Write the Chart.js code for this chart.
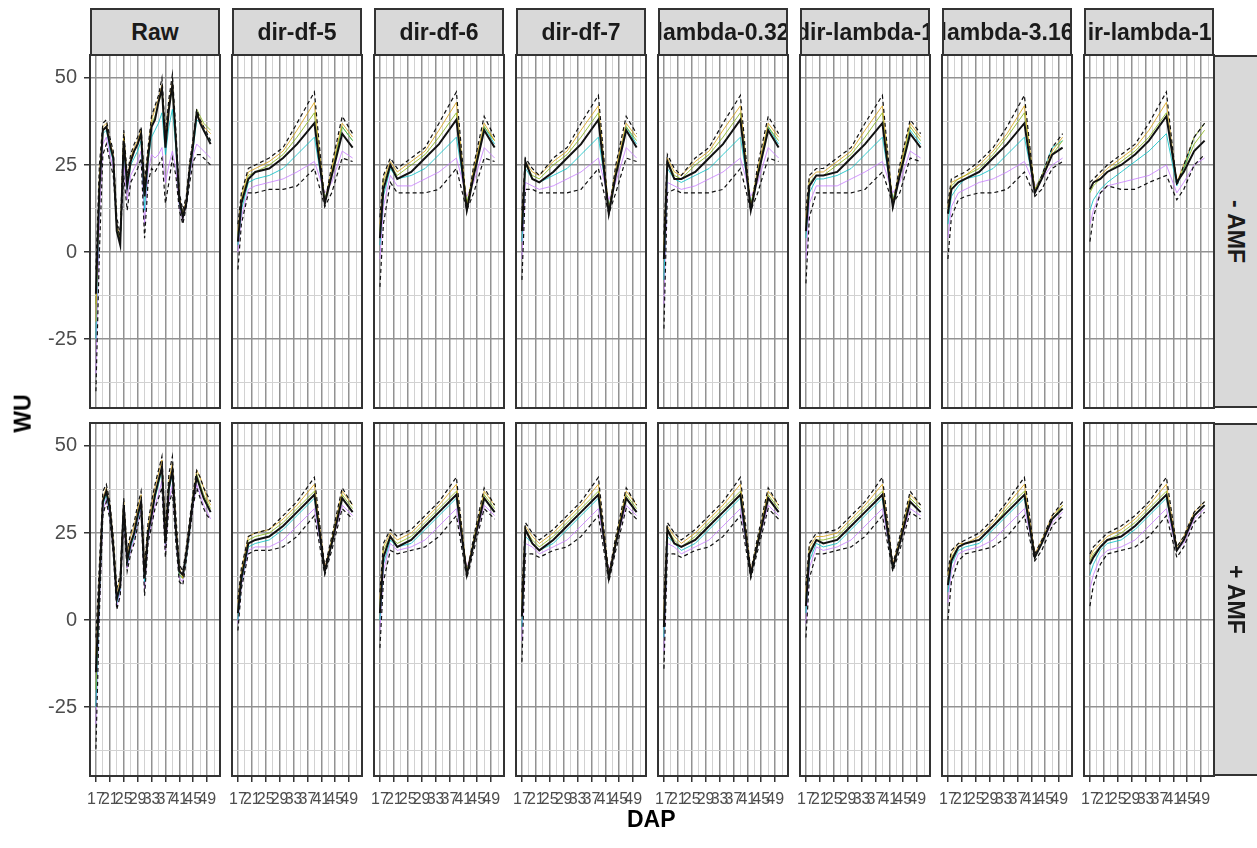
<!DOCTYPE html>
<html><head><meta charset="utf-8">
<script src="https://cdn.jsdelivr.net/npm/chart.js@4"></script>
<style>
body{margin:0;background:#fff;width:1257px;height:848px;overflow:hidden;position:relative;font-family:"Liberation Sans",Arial,sans-serif}
canvas{position:absolute}
.strip{position:absolute;background:#d9d9d9;border:2px solid #333;box-sizing:border-box;overflow:hidden;display:flex;align-items:center;justify-content:center;font-weight:bold;font-size:23px;color:#1a1a1a;white-space:nowrap}
.rstrip{writing-mode:vertical-rl;font-size:23px;padding-right:12px}
.title{position:absolute;font-weight:bold;font-size:23px;color:#000;white-space:nowrap}
</style></head><body>
<script>
// ---------- data ----------
const METHODS = ["Raw","dir-df-5","dir-df-6","dir-df-7","lambda-0.32","dir-lambda-1","lambda-3.16","dir-lambda-10"];
const ROWS = ["- AMF","+ AMF"];
const DAP_RAW = [17,18,19,20,21,22,23,24,25,26,27,28,29,30,31,32,33,34,35,36,37,38,39,40,41,42,43,44,45,46,47,48,49,50];
const DAP_SMOOTH = [17,18,20,22,26,30,34,39,42,44,47,50];
const X_TICKS = [17,21,25,29,33,37,41,45,49];
const X_MINOR = [19,23,27,31,35,39,43,47,51];
const Y_TICKS = [-25,0,25,50];
const Y_MINOR = [-37.5,-12.5,12.5,37.5];
const SERIES = ["upper","g1","g2","mean","g3","g4","lower"];

// - AMF row, each panel: [upper, g1, g2, mean, g3, g4, lower]
const minus_raw = [
 [-5,25,37,38,33,29,10,5,35,22,28,31,33,36,20,30,39,42,45,50,34,44,51,35,17,12,16,26,33,41,38,36,34,32],
 [-20,22,36,37,32,28,8,4,34,21,27,30,32,35,18,29,38,41,44,48,33,43,49,33,16,11,15,25,32,40,38,36,35,34],
 [-15,20,35,36,31,27,7,3,33,20,26,29,31,34,17,28,37,39,43,46,31,42,47,32,15,10,14,24,31,41,39,37,36,35],
 [-12,18,35,36,31,27,6,2,32,19,26,29,31,34,16,27,36,38,43,47,30,41,48,32,15,10,14,24,31,40,37,35,33,31],
 [-25,18,34,35,30,26,7,3,30,18,25,27,29,32,12,26,33,35,37,40,28,36,41,30,14,10,14,23,30,38,37,35,33,32],
 [-35,10,31,33,28,24,8,4,26,15,22,24,26,29,8,23,28,27,28,30,20,25,29,24,13,9,14,22,28,31,30,29,28,27],
 [-40,0,28,31,26,22,8,4,22,12,20,22,24,27,4,20,24,23,25,27,14,20,27,22,12,8,13,20,26,28,28,27,26,25]
];
const minus_dirdf5 = [
 [8,17,24,25,27,30,37,46,14,25,39,34],
 [6,16,23,24,26,29,35,43,14,24,37,33],
 [5,15,22,23,25,28,33,40,15,23,36,32],
 [3,14,21,23,24,27,31,37,14,22,34,30],
 [2,12,20,21,22,24,28,33,15,22,36,32],
 [0,10,18,19,20,21,23,26,17,20,29,27],
 [-5,8,17,17,18,18,19,24,13,17,27,26]
];
const minus_dirdf6 = [
 [10,22,27,24,27,30,37,46,12,25,39,33],
 [8,21,26,23,26,29,35,43,13,24,37,32],
 [6,20,25,22,25,28,33,40,14,23,36,32],
 [4,18,25,21,23,27,31,38,12,22,35,30],
 [2,16,24,21,22,24,28,33,14,22,36,31],
 [-2,13,22,19,19,21,23,27,16,20,30,27],
 [-10,8,20,17,17,17,18,24,12,17,27,26]
];
const minus_dirdf7 = [
 [12,27,24,22,27,30,37,45,11,25,39,34],
 [10,26,23,22,26,29,35,42,12,24,37,33],
 [8,25,22,21,25,28,33,40,12,23,36,32],
 [6,26,21,20,23,27,31,38,11,22,35,30],
 [3,24,21,20,22,24,28,33,13,22,36,31],
 [-2,20,19,18,19,21,23,27,15,20,30,27],
 [-8,18,18,17,17,17,18,24,11,17,27,26]
];
const minus_lambda03 = [
 [5,28,24,22,27,30,37,45,12,25,39,34],
 [2,27,23,22,26,29,35,42,13,24,37,33],
 [0,26,22,21,25,28,33,40,13,23,36,32],
 [-2,26,21,21,23,27,31,38,12,22,35,30],
 [-8,24,21,20,22,24,28,33,14,22,36,31],
 [-15,20,19,18,19,21,23,27,16,20,30,27],
 [-22,17,18,17,17,17,18,24,12,17,27,26]
];
const minus_rlambda03 = [
 [12,22,24,24,27,30,37,45,13,25,38,34],
 [10,21,23,23,26,29,35,42,14,24,37,33],
 [8,20,22,22,25,28,33,40,14,23,36,32],
 [6,19,22,22,23,27,31,37,13,22,34,30],
 [4,17,21,21,22,24,28,33,15,22,35,31],
 [-2,14,19,19,19,21,23,26,17,20,29,27],
 [-9,10,17,17,17,17,18,23,14,17,27,26]
];
const minus_lambda3 = [
 [14,21,22,23,26,30,36,45,17,22,30,34],
 [13,20,21,22,25,29,34,42,18,22,29,33],
 [12,19,21,22,24,28,33,40,18,21,28,32],
 [11,18,20,21,23,27,31,37,17,21,28,30],
 [8,16,19,21,22,24,28,33,18,22,30,32],
 [4,13,17,18,20,21,23,26,19,21,25,27],
 [-2,10,15,16,17,17,18,23,16,18,24,26]
];
const minus_rlambda10 = [
 [20,21,23,25,28,31,37,46,19,25,33,37],
 [18,20,22,24,27,30,35,43,20,25,33,37],
 [17,19,21,23,26,29,33,40,20,24,31,35],
 [18,20,21,23,25,28,32,39,20,23,29,32],
 [12,15,18,20,23,26,29,34,19,24,33,37],
 [8,12,17,19,20,21,22,25,17,20,25,27],
 [3,10,17,19,18,18,20,22,15,18,25,28]
];

// + AMF row
const plus_raw = [
 [-5,16,37,39,34,24,9,13,35,20,25,28,33,37,15,28,34,39,43,47,26,42,47,30,16,14,21,29,37,43,41,38,36,34],
 [-10,13,35,38,33,23,8,12,34,19,24,27,32,36,14,27,33,38,42,46,25,40,45,28,15,12,20,28,36,43,41,38,35,33],
 [-20,9,34,37,32,21,6,10,33,17,22,25,30,34,12,25,31,36,40,44,23,38,43,26,13,12,19,27,35,42,39,36,34,32],
 [-15,10,34,37,32,21,6,10,33,17,22,25,30,34,12,25,30,36,40,44,22,38,43,26,14,13,19,27,35,41,38,35,33,31],
 [-25,7,33,36,31,21,5,9,32,16,21,24,29,33,11,24,30,35,39,43,22,37,42,25,13,12,18,26,35,41,38,35,33,31],
 [-30,4,31,35,30,20,4,8,30,15,20,23,28,32,9,23,28,33,36,40,20,34,39,24,12,11,18,26,33,39,36,33,31,29],
 [-37,2,30,34,29,19,3,7,29,14,19,22,27,31,7,22,27,32,35,38,18,33,37,22,11,10,17,25,33,38,35,32,30,29]
];
const plus_dirdf5 = [
 [6,15,24,25,26,30,34,41,15,24,38,33],
 [5,14,24,25,26,29,33,39,15,23,37,33],
 [3,13,23,24,25,28,32,37,14,23,36,32],
 [2,12,22,23,24,27,31,36,14,22,35,31],
 [0,11,21,22,23,26,30,35,14,22,35,31],
 [-1,10,20,21,21,23,27,32,15,22,33,30],
 [-3,9,19,20,20,21,24,30,13,20,32,29]
];
const plus_dirdf6 = [
 [8,22,26,24,26,30,34,41,13,24,38,33],
 [6,21,25,23,25,29,33,39,14,23,37,33],
 [4,20,24,22,24,28,32,37,13,23,36,32],
 [2,18,24,21,23,27,31,36,13,22,35,31],
 [0,16,23,21,22,26,30,35,14,22,35,31],
 [-3,14,22,20,21,23,27,32,15,22,33,30],
 [-8,11,20,19,20,21,24,30,12,20,32,29]
];
const plus_dirdf7 = [
 [8,28,25,23,26,30,34,41,13,24,38,33],
 [6,27,24,22,25,29,33,39,13,23,37,33],
 [3,26,23,21,24,28,32,37,12,23,36,32],
 [1,26,22,20,23,27,31,36,12,22,35,31],
 [-2,24,22,20,22,26,30,35,13,22,35,31],
 [-6,22,21,19,21,23,27,32,14,22,33,30],
 [-12,19,19,18,20,21,24,30,11,20,32,29]
];
const plus_lambda03 = [
 [6,28,25,23,26,30,34,41,14,24,38,33],
 [3,27,24,22,25,29,33,39,14,23,37,33],
 [0,26,23,21,24,28,32,37,13,23,36,32],
 [-2,26,22,21,23,27,31,36,13,22,35,31],
 [-5,24,22,20,22,26,30,35,13,22,35,31],
 [-9,22,21,19,21,23,27,32,14,22,33,30],
 [-14,19,19,18,20,21,24,30,12,20,32,29]
];
const plus_rlambda03 = [
 [10,22,25,25,26,30,34,41,16,24,37,33],
 [8,21,24,24,25,29,33,39,16,23,36,33],
 [6,20,23,23,24,28,32,37,15,23,35,32],
 [4,19,23,22,23,27,31,36,15,22,34,31],
 [2,17,22,21,22,26,30,35,15,22,34,31],
 [-1,15,21,20,21,23,27,32,16,22,32,30],
 [-5,12,19,19,20,21,24,30,14,20,31,29]
];
const plus_lambda3 = [
 [14,20,22,23,25,29,34,41,19,23,30,34],
 [13,19,22,22,24,28,33,39,19,23,30,33],
 [11,18,21,22,23,27,32,37,18,22,29,33],
 [10,17,21,22,23,27,31,36,18,22,29,32],
 [8,16,20,21,22,26,30,35,18,22,29,32],
 [5,14,19,20,21,23,27,32,19,22,28,31],
 [0,11,17,19,20,21,24,30,17,20,27,30]
];
const plus_rlambda10 = [
 [19,21,23,25,27,30,34,41,21,24,31,34],
 [18,20,22,24,26,29,33,39,21,24,31,34],
 [17,19,21,23,25,28,32,37,20,23,30,33],
 [16,18,21,23,24,27,31,36,20,23,30,33],
 [13,16,20,22,23,26,30,35,20,23,30,33],
 [9,13,18,20,21,23,27,32,20,22,29,32],
 [4,10,16,19,20,21,24,30,18,21,28,31]
];

const PANELS = [
 [minus_raw,minus_dirdf5,minus_dirdf6,minus_dirdf7,minus_lambda03,minus_rlambda03,minus_lambda3,minus_rlambda10],
 [plus_raw,plus_dirdf5,plus_dirdf6,plus_dirdf7,plus_lambda03,plus_rlambda03,plus_lambda3,plus_rlambda10]
];

// ---------- style / layout ----------
const STYLE = {
 upper:{color:'#111',w:1.2,dash:[4,3],order:1},
 lower:{color:'#111',w:1.2,dash:[4,3],order:1},
 mean:{color:'#111',w:2,dash:[],order:0},
 g1:{color:'rgba(215,160,20,0.8)',w:1,dash:[],order:2},
 g2:{color:'rgba(124,174,0,0.75)',w:1,dash:[],order:2},
 g3:{color:'rgba(0,191,196,0.8)',w:1,dash:[],order:2},
 g4:{color:'rgba(199,124,255,0.8)',w:1,dash:[],order:2}
};
const PANEL_W=130, PANEL_H=353, X0=90, DX=142, ROW_Y=[55,423];
const PADL=80, PADB=45, PADT=6, PADR=6;
const FONT = '"Liberation Sans", Arial, sans-serif';

const borderPlugin = {
 id:'panelBorder',
 afterDatasetsDraw(chart){
  const a=chart.chartArea, c=chart.ctx;
  c.save(); c.strokeStyle='#333'; c.lineWidth=2;
  c.strokeRect(a.left,a.top,a.right-a.left,a.bottom-a.top); c.restore();
 }
};

function makePanel(r,c){
 const data=PANELS[r][c]; const xs = c===0?DAP_RAW:DAP_SMOOTH;
 const cv=document.createElement('canvas');
 const W=PANEL_W+PADL+PADR, H=PANEL_H+PADT+PADB;
 cv.width=W; cv.height=H;
 cv.style.left=(X0+DX*c-PADL)+'px'; cv.style.top=(ROW_Y[r]-PADT)+'px';
 cv.style.width=W+'px'; cv.style.height=H+'px';
 document.body.appendChild(cv);
 const datasets = SERIES.map((name,k)=>({
  label:name, data: xs.map((x,i)=>({x:x,y:data[k][i]})),
  borderColor:STYLE[name].color, borderWidth:STYLE[name].w, borderDash:STYLE[name].dash,
  order:STYLE[name].order, pointRadius:0, tension:0, fill:false
 }));
 const showX = r===1, showY = c===0;
 new Chart(cv,{
  type:'line', data:{datasets},
  plugins:[borderPlugin],
  options:{
   responsive:false, animation:false, devicePixelRatio:1, events:[],
   layout:{padding:{top:PADT,right:PADR,left:0,bottom:0}},
   plugins:{legend:{display:false},tooltip:{enabled:false}},
   scales:{
    x:{type:'linear',min:15.3,max:52.7,
     afterBuildTicks:s=>{s.ticks=X_TICKS.concat(X_MINOR).sort((a,b)=>a-b).map(v=>({value:v}));},
     afterFit:s=>{s.height=PADB;s.paddingLeft=0;s.paddingRight=0;},
     ticks:{autoSkip:false,maxRotation:0,minRotation:0,padding:8,color:'#4d4d4d',font:{size:16,family:FONT},
       callback:v=> (showX && X_TICKS.includes(v)) ? String(v) : ''},
     grid:{drawTicks:true,tickLength:6,
       lineWidth:ctx=> X_TICKS.includes(ctx.tick.value)?1.5:1,
       color:ctx=> X_TICKS.includes(ctx.tick.value)?'#929292':'#d2d2d2',
       tickColor:ctx=> (showX && X_TICKS.includes(ctx.tick.value))?'#333':'rgba(0,0,0,0)'},
     border:{display:false}
    },
    y:{type:'linear',min:-44.8,max:56.6,
     afterBuildTicks:s=>{s.ticks=Y_TICKS.concat(Y_MINOR).sort((a,b)=>a-b).map(v=>({value:v}));},
     afterFit:s=>{s.width=PADL;s.paddingTop=0;s.paddingBottom=0;},
     ticks:{autoSkip:false,padding:7,color:'#4d4d4d',font:{size:20,family:FONT},
       callback:v=> (showY && Y_TICKS.includes(v)) ? String(v) : ''},
     grid:{drawTicks:true,tickLength:6,
       lineWidth:ctx=> Y_TICKS.includes(ctx.tick.value)?1.5:1,
       color:ctx=> Y_TICKS.includes(ctx.tick.value)?'#929292':'#d2d2d2',
       tickColor:ctx=> (showY && Y_TICKS.includes(ctx.tick.value))?'#333':'rgba(0,0,0,0)'},
     border:{display:false}
    }
   }
  }
 });
}

for(let r=0;r<2;r++) for(let c=0;c<8;c++) makePanel(r,c);

// strips
METHODS.forEach((m,c)=>{
 const d=document.createElement('div'); d.className='strip';
 d.style.left=(X0+DX*c)+'px'; d.style.top='8px'; d.style.width=PANEL_W+'px'; d.style.height='48px';
 const s=document.createElement('span'); s.textContent=m; d.appendChild(s);
 document.body.appendChild(d);
});
ROWS.forEach((lab,r)=>{
 const d=document.createElement('div'); d.className='strip rstrip';
 d.style.left=(X0+DX*7+PANEL_W-1)+'px'; d.style.top=ROW_Y[r]+'px'; d.style.width='56px'; d.style.height=PANEL_H+'px';
 d.textContent=lab; document.body.appendChild(d);
});
// axis titles
const tx=document.createElement('div'); tx.className='title'; tx.textContent='DAP';
tx.style.left=(X0+(DX*7+PANEL_W)/2-25)+'px'; tx.style.top='806px'; document.body.appendChild(tx);
const ty=document.createElement('div'); ty.className='title'; ty.textContent='WU';
ty.style.left='4px'; ty.style.top='400px'; ty.style.transform='rotate(-90deg)'; document.body.appendChild(ty);
</script>
</body></html>
